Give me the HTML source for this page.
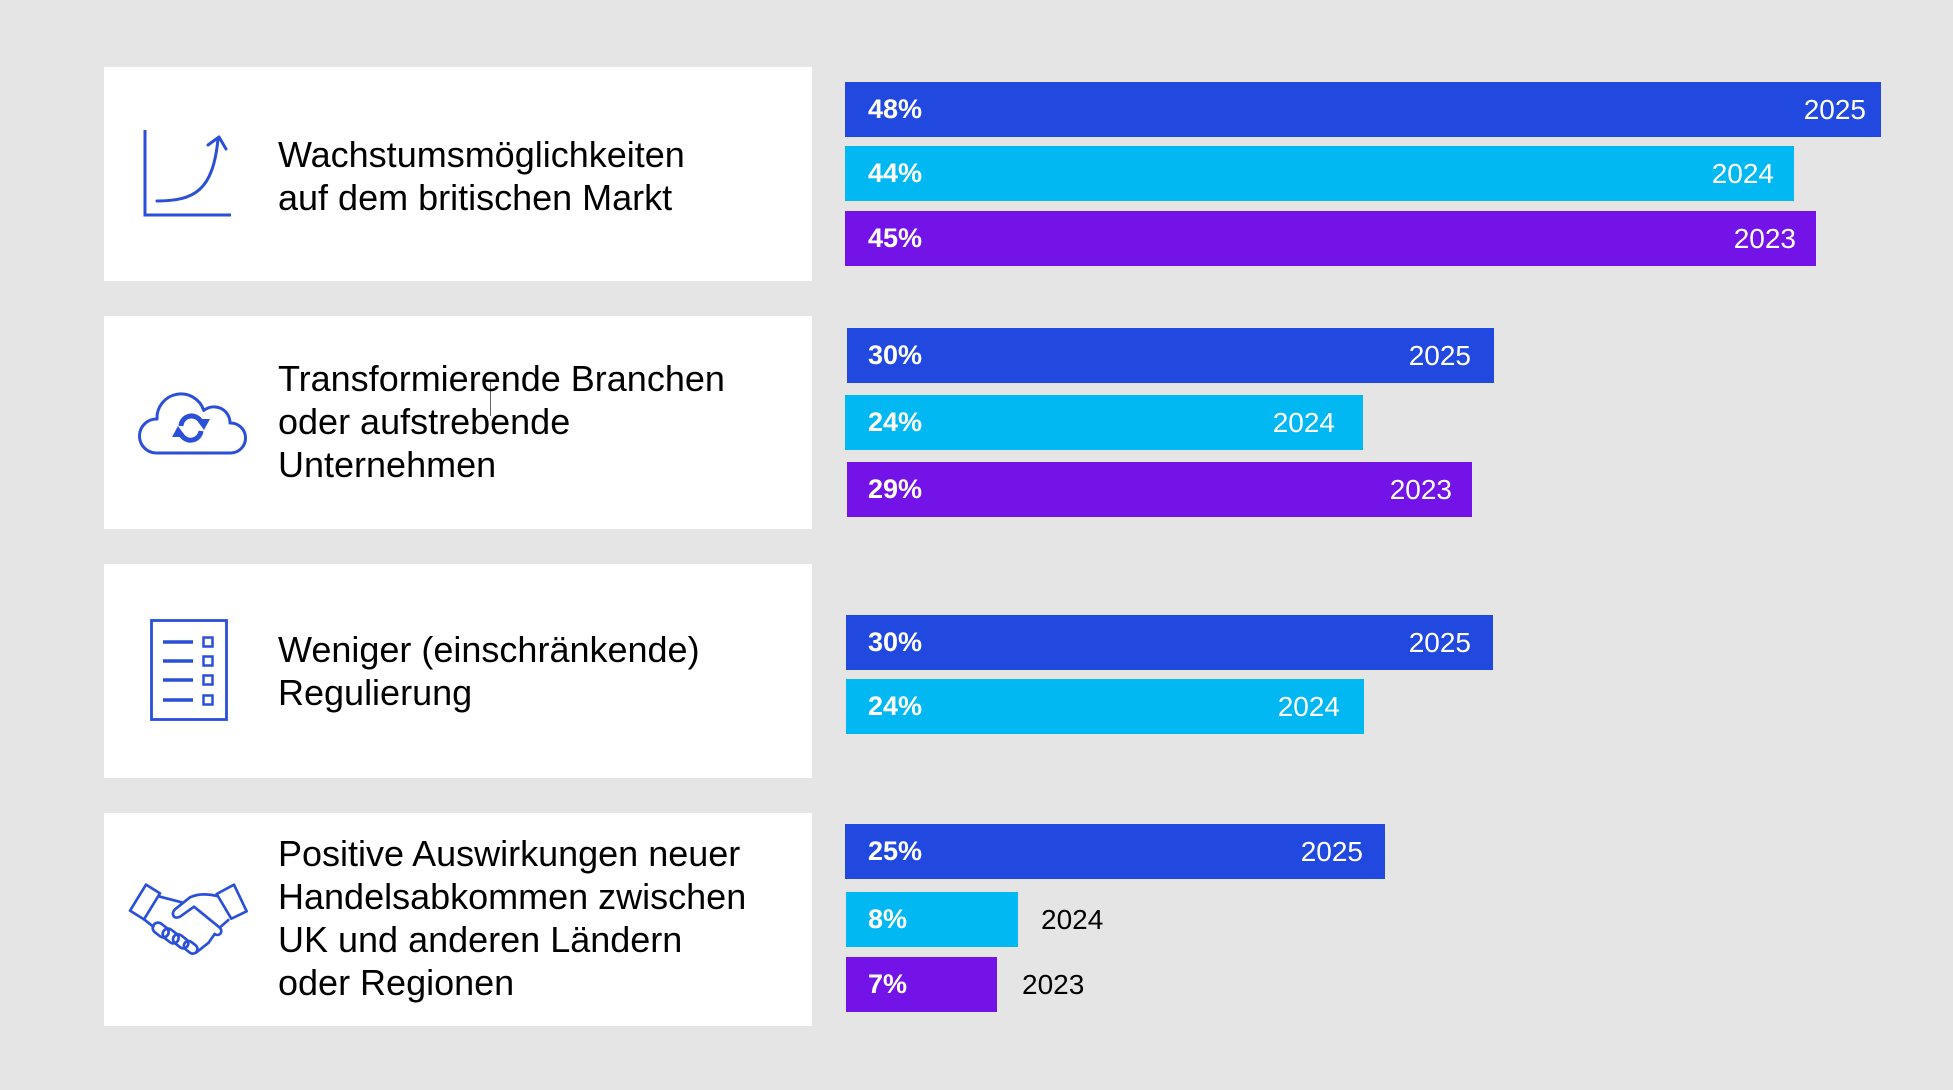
<!DOCTYPE html>
<html>
<head>
<meta charset="utf-8">
<style>
  html, body { margin: 0; padding: 0; }
  body { width: 1953px; height: 1090px; overflow: hidden; background: #e5e5e5; position: relative; font-family: "Liberation Sans", Arial, sans-serif; }
  .card { position: absolute; left: 104px; width: 708px; background: #ffffff; }
  .txt { position: absolute; left: 278px; font-size: 36px; line-height: 43px; color: #000; white-space: nowrap; }
  .bar { position: absolute; height: 55px; }
  .pct { position: absolute; left: 868px; height: 55px; line-height: 55px; font-size: 27px; font-weight: bold; color: #fff; white-space: nowrap; }
  .yr { position: absolute; left: 0; height: 55px; line-height: 55px; font-size: 28px; color: #fff; text-align: right; white-space: nowrap; }
  .yro { position: absolute; height: 55px; line-height: 55px; font-size: 28px; color: #000; white-space: nowrap; }
  .b { background: #2149E0; }
  .c { background: #02B8F2; }
  .p { background: #7313E8; }
  svg { position: absolute; left: 0; top: 0; }
</style>
</head>
<body>
  <div class="card" style="top:67px;height:214px;"></div>
  <div class="card" style="top:316px;height:213px;"></div>
  <div class="card" style="top:564px;height:214px;"></div>
  <div class="card" style="top:813px;height:213px;"></div>

  <svg width="1953" height="1090" viewBox="0 0 1953 1090">
    <g fill="none" stroke="#2A4FD8" stroke-linecap="round" stroke-linejoin="round">
      <!-- icon 1: growth chart -->
      <path d="M145,130 V215 H231" stroke-width="3" stroke-linecap="butt" stroke-linejoin="miter"/>
      <path d="M157,201 C195,201 213,190 218,139" stroke-width="3"/>
      <path d="M208,145 L219,137 L226,149" stroke-width="3"/>

      <!-- icon 2: cloud -->
      <path d="M156,453 A17,17 0 0,1 157,419 A24,24 0 0,1 203.8,410.5 A16,16 0 0,1 230,423 A15,15 0 1,1 231,453 Z" stroke-width="3"/>
      <path d="M181,426 A10.5,10.5 0 0,1 201,422" stroke-width="5" stroke-linecap="butt"/>
      <path d="M201,431 A10.5,10.5 0 0,1 181,434" stroke-width="5" stroke-linecap="butt"/>
    </g>
    <g fill="#2A4FD8" stroke="none">
      <polygon points="196,419 210,419 204,430"/>
      <polygon points="172,437 186,437 178,426"/>
    </g>
    <g fill="none" stroke="#2A4FD8" stroke-linecap="round" stroke-linejoin="round">
      <!-- icon 3: document checklist -->
      <rect x="151.5" y="620.5" width="75" height="99" stroke-width="2.8" stroke-linejoin="miter"/>
      <path d="M163,642 H193 M163,661 H193 M163,680 H193 M163,700 H193" stroke-width="3.5" stroke-linecap="butt"/>
      <rect x="203.5" y="637.5" width="9" height="9" stroke-width="2.5" stroke-linejoin="miter"/>
      <rect x="203.5" y="656.5" width="9" height="9" stroke-width="2.5" stroke-linejoin="miter"/>
      <rect x="203.5" y="675.5" width="9" height="9" stroke-width="2.5" stroke-linejoin="miter"/>
      <rect x="203.5" y="695.5" width="9" height="9" stroke-width="2.5" stroke-linejoin="miter"/>

      <!-- icon 4: handshake -->
      <g transform="translate(120,870) scale(0.33333)" stroke-width="8">
        <path d="M30,122 L78,44 L120,70 L72,148 Z"/>
        <path d="M290,72 L342,44 L380,124 L334,146 Z"/>
        <path d="M290,78 C265,72 235,70 210,82 L165,118 C152,130 160,150 180,140 L222,110 L298,172 C312,184 298,202 284,192"/>
        <path d="M120,80 L185,97"/>
        <path d="M72,148 L100,170"/>
        <path d="M325,150 L300,172"/>
        <rect x="96" y="164" width="52" height="32" rx="16" transform="rotate(38 122 180)"/>
        <rect x="126" y="182" width="52" height="32" rx="16" transform="rotate(38 152 198)"/>
        <rect x="157" y="199" width="50" height="30" rx="15" transform="rotate(38 182 214)"/>
        <rect x="190" y="218" width="44" height="28" rx="14" transform="rotate(38 212 232)"/>
        <path d="M228,248 L266,218 L284,192"/>
      </g>
    </g>
    <!-- text cursor artifact -->
    <line x1="490.5" y1="380" x2="490.5" y2="416" stroke="#666" stroke-width="1"/>
  </svg>

  <!-- Card texts -->
  <div class="txt" style="top:133px;">Wachstumsmöglichkeiten<br>auf dem britischen Markt</div>
  <div class="txt" style="top:357px;">Transformierende Branchen<br>oder aufstrebende<br>Unternehmen</div>
  <div class="txt" style="top:628px;">Weniger (einschränkende)<br>Regulierung</div>
  <div class="txt" style="top:832px;">Positive Auswirkungen neuer<br>Handelsabkommen zwischen<br>UK und anderen Ländern<br>oder Regionen</div>

  <!-- Group 1 -->
  <div class="bar b" style="left:845px;top:82px;width:1036px;"></div>
  <div class="pct" style="top:82px;">48%</div>
  <div class="yr" style="top:82px;width:1866px;">2025</div>

  <div class="bar c" style="left:845px;top:146px;width:949px;"></div>
  <div class="pct" style="top:146px;">44%</div>
  <div class="yr" style="top:146px;width:1774px;">2024</div>

  <div class="bar p" style="left:845px;top:211px;width:971px;"></div>
  <div class="pct" style="top:211px;">45%</div>
  <div class="yr" style="top:211px;width:1796px;">2023</div>

  <!-- Group 2 -->
  <div class="bar b" style="left:847px;top:328px;width:647px;"></div>
  <div class="pct" style="top:328px;">30%</div>
  <div class="yr" style="top:328px;width:1471px;">2025</div>

  <div class="bar c" style="left:845px;top:395px;width:518px;"></div>
  <div class="pct" style="top:395px;">24%</div>
  <div class="yr" style="top:395px;width:1335px;">2024</div>

  <div class="bar p" style="left:847px;top:462px;width:625px;"></div>
  <div class="pct" style="top:462px;">29%</div>
  <div class="yr" style="top:462px;width:1452px;">2023</div>

  <!-- Group 3 -->
  <div class="bar b" style="left:846px;top:615px;width:647px;"></div>
  <div class="pct" style="top:615px;">30%</div>
  <div class="yr" style="top:615px;width:1471px;">2025</div>

  <div class="bar c" style="left:846px;top:679px;width:518px;"></div>
  <div class="pct" style="top:679px;">24%</div>
  <div class="yr" style="top:679px;width:1340px;">2024</div>

  <!-- Group 4 -->
  <div class="bar b" style="left:845px;top:824px;width:540px;"></div>
  <div class="pct" style="top:824px;">25%</div>
  <div class="yr" style="top:824px;width:1363px;">2025</div>

  <div class="bar c" style="left:846px;top:892px;width:172px;"></div>
  <div class="pct" style="top:892px;">8%</div>
  <div class="yro" style="left:1041px;top:892px;">2024</div>

  <div class="bar p" style="left:846px;top:957px;width:151px;"></div>
  <div class="pct" style="top:957px;">7%</div>
  <div class="yro" style="left:1022px;top:957px;">2023</div>
</body>
</html>
